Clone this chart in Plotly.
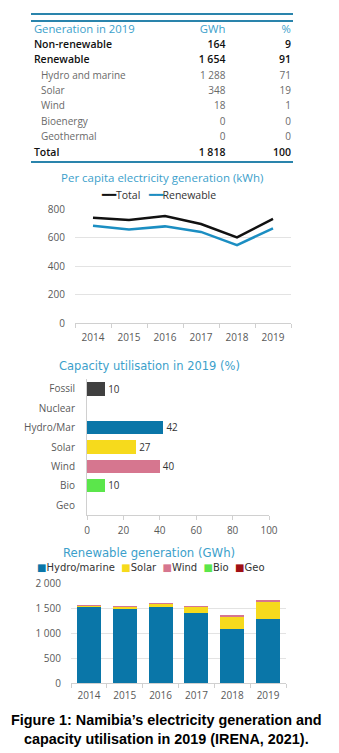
import plotly.graph_objects as go

W, H = 339, 753
OFF = 8  # default page margin around the plot in the html page

# ---------------- data ----------------
table_header = ["Generation in 2019", "GWh", "%"]
table_labels = ["Non-renewable", "Renewable", "Hydro and marine", "Solar", "Wind",
                "Bioenergy", "Geothermal", "Total"]
table_gwh = [164, 1654, 1288, 348, 18, 0, 0, 1818]
table_pct = [9, 91, 71, 19, 1, 0, 0, 100]
table_main = [True, True, False, False, False, False, False, True]

years = ["2014", "2015", "2016", "2017", "2018", "2019"]
percap_total = [739, 723, 751, 695, 601, 730]
percap_renew = [683, 657, 678, 639, 547, 664]

cap_cats = ["Fossil", "Nuclear", "Hydro/Mar", "Solar", "Wind", "Bio", "Geo"]
cap_vals = [10, None, 42, 27, 40, 10, None]

ren_hydro = [1520, 1480, 1530, 1410, 1090, 1288]
ren_solar = [35, 45, 60, 120, 240, 348]
ren_wind = [1, 1, 1, 1, 15, 18]
ren_bio = [0, 0, 0, 0, 0, 0]
ren_geo = [0, 0, 0, 0, 0, 0]

# ---------------- style ----------------
FONT = "Open Sans"
WIDE = "DejaVu Sans"
TICK = dict(family=FONT, size=10, color="#595959")
TITLE_C = "#3C9FCB"
C_TOTAL = "#111111"
C_RENEW = "#1B8EC2"
C_FOSSIL = "#404040"
C_HYDRO = "#0A76A8"
C_SOLAR = "#F6DA1C"
C_WIND = "#D6768F"
C_BIO = "#5BE64B"
C_GEO = "#A01014"
cap_colors = [C_FOSSIL, "#999999", C_HYDRO, C_SOLAR, C_WIND, C_BIO, "#999999"]
ren_series = [(ren_hydro, "Hydro/marine", C_HYDRO), (ren_solar, "Solar", C_SOLAR),
              (ren_wind, "Wind", C_WIND), (ren_bio, "Bio", C_BIO), (ren_geo, "Geo", C_GEO)]

FW, FH = W - OFF, H - OFF


def px_x(p):
    return (p - OFF) / FW


def px_y(p):
    return 1 - (p - OFF) / FH


def fmt(v):
    return f"{v:,}".replace(",", " ")


fig = go.Figure()

# ---------------- table (text on its own hidden axes) ----------------
rows = list(range(1, len(table_labels) + 1))
lab_x = [0.011 if m else 0.038 for m in table_main]
lab_col = ["#111111" if m else "#6A6A6A" for m in table_main]
wts = [600 if m else 400 for m in table_main]
szs = [10.5 if m else 10 for m in table_main]

common = dict(mode="text", xaxis="x", yaxis="y", showlegend=False, hoverinfo="skip",
              cliponaxis=False)
fig.add_trace(go.Scatter(x=[0.011], y=[0], text=[table_header[0]], textposition="middle right",
                         textfont=dict(family=FONT, size=11.3, color=TITLE_C), **common))
fig.add_trace(go.Scatter(x=[0.742, 0.992], y=[0, 0], text=table_header[1:],
                         textposition="middle left",
                         textfont=dict(family=FONT, size=11.3, color=TITLE_C), **common))
fig.add_trace(go.Scatter(x=lab_x, y=rows, text=table_labels, textposition="middle right",
                         textfont=dict(family=FONT, size=szs, color=lab_col, weight=wts),
                         **common))
fig.add_trace(go.Scatter(x=[0.742] * len(rows), y=rows, text=[fmt(v) for v in table_gwh],
                         textposition="middle left",
                         textfont=dict(family=FONT, size=szs, color=lab_col, weight=wts),
                         **common))
fig.add_trace(go.Scatter(x=[0.992] * len(rows), y=rows, text=[fmt(v) for v in table_pct],
                         textposition="middle left",
                         textfont=dict(family=FONT, size=szs, color=lab_col, weight=wts),
                         **common))

# ---------------- per capita line chart ----------------
fig.add_trace(go.Scatter(x=years, y=percap_total, name="Total", mode="lines",
                         line=dict(color=C_TOTAL, width=2.5), xaxis="x2", yaxis="y2",
                         showlegend=False))
fig.add_trace(go.Scatter(x=years, y=percap_renew, name="Renewable", mode="lines",
                         line=dict(color=C_RENEW, width=2.5), xaxis="x2", yaxis="y2",
                         showlegend=False))

# ---------------- capacity utilisation ----------------
fig.add_trace(go.Bar(y=cap_cats, x=cap_vals, orientation="h", marker=dict(color=cap_colors),
                     width=0.68, text=[("" if v is None else str(v)) for v in cap_vals],
                     textposition="outside", cliponaxis=False,
                     textfont=dict(family=FONT, size=10.5, color="#333333"),
                     xaxis="x3", yaxis="y3", showlegend=False, hoverinfo="skip"))

# ---------------- renewable generation ----------------
for vals, nm, col in ren_series:
    fig.add_trace(go.Bar(x=years, y=vals, name=nm, marker=dict(color=col, line=dict(width=0)),
                         width=0.67, xaxis="x4", yaxis="y4", showlegend=False))

grid_c = "#E3E3E3"
axis_c = "#D0D0D0"
base_ax = dict(automargin=False, zeroline=False, showgrid=False)

fig.update_layout(
    template="none",
    width=FW, height=FH, margin=dict(l=0, r=0, t=0, b=0, autoexpand=False),
    paper_bgcolor="white", plot_bgcolor="white",
    separators=". ",
    barmode="stack",
    showlegend=False,
    font=dict(family=FONT, size=10, color="#333333"),
    # table axes
    xaxis=dict(base_ax, domain=[px_x(31), px_x(293)], range=[0, 1], visible=False),
    yaxis=dict(base_ax, domain=[px_y(162), px_y(14)], range=[8.585, -1.041], visible=False),
    # line chart
    xaxis2=dict(base_ax, domain=[px_x(75), px_x(291)], anchor="y2", type="category",
                range=[-0.5, 5.5],
                showline=True, linecolor=axis_c, ticks="outside", tickson="boundaries",
                ticklen=4, tickcolor=axis_c, tickfont=TICK, ticklabelstandoff=5),
    yaxis2=dict(base_ax, domain=[px_y(323), px_y(209)], anchor="x2", range=[0, 800], dtick=200,
                showgrid=True, gridcolor=grid_c, tickfont=TICK, ticks="",
                ticklabelstandoff=9),
    # capacity utilisation
    xaxis3=dict(base_ax, domain=[px_x(87), px_x(269)], anchor="y3", range=[0, 100], dtick=20,
                showline=True, linecolor=axis_c, ticks="outside", ticklen=4, tickcolor=axis_c,
                tickfont=TICK, ticklabelstandoff=2),
    yaxis3=dict(base_ax, domain=[px_y(514.7), px_y(379.3)], anchor="x3", type="category",
                autorange="reversed", showline=True, linecolor=axis_c, ticks="",
                tickfont=TICK, ticklabelstandoff=9),
    # renewable generation
    xaxis4=dict(base_ax, domain=[px_x(71), px_x(286)], anchor="y4", type="category",
                range=[-0.5, 5.5],
                showline=True, linecolor=axis_c, ticks="outside", tickson="boundaries",
                ticklen=4, tickcolor=axis_c, tickfont=TICK, ticklabelstandoff=3),
    yaxis4=dict(base_ax, domain=[px_y(683), px_y(583)], anchor="x4", range=[0, 2000], dtick=500,
                tickformat=",d", showgrid=True, gridcolor=grid_c, ticks="",
                tickfont=TICK, ticklabelstandoff=9),
)

# table rules
rule_c = "#2A84AC"
fig.add_shape(type="line", xref="x domain", yref="y domain", x0=0, x1=1, y0=1, y1=1,
              line=dict(color=rule_c, width=2))
fig.add_shape(type="line", xref="x domain", yref="y domain", x0=0, x1=1,
              y0=(162 - 21) / (162 - 14), y1=(162 - 21) / (162 - 14),
              line=dict(color=rule_c, width=1.8))
fig.add_shape(type="line", xref="x domain", yref="y domain", x0=0, x1=1, y0=0, y1=0,
              line=dict(color=rule_c, width=1.8))

# titles
for txt, cx, cy, fam, sz in [("Per capita electricity generation (kWh)", 162, 177, FONT, 11.5),
                             ("Capacity utilisation in 2019 (%)", 149, 366, WIDE, 11.5),
                             ("Renewable generation (GWh)", 149, 553, WIDE, 11.7)]:
    fig.add_annotation(text=txt, x=px_x(cx), y=px_y(cy), xref="paper", yref="paper",
                       showarrow=False, xanchor="center", yanchor="middle",
                       font=dict(family=fam, size=sz, color=TITLE_C))

# legends (built from the trace names / colours)
NB = "\u00a0"
line_leg = (NB * 3).join(
    '<span style="color:%s;font-size:12px">━━</span>%s' % (t.line.color, t.name)
    for t in fig.data if t.xaxis == "x2")
fig.add_annotation(text=line_leg, x=px_x(99), y=px_y(195), xref="paper", yref="paper",
                   showarrow=False, xanchor="left", yanchor="middle",
                   font=dict(family=FONT, size=10.5, color="#333333"))

bar_leg = (NB * 2).join('<span style="color:%s">■</span>%s' % (c, n) for _, n, c in ren_series)
fig.add_annotation(text=bar_leg, x=px_x(35), y=px_y(567), xref="paper", yref="paper",
                   showarrow=False, xanchor="left", yanchor="middle",
                   font=dict(family=WIDE, size=10, color="#333333"))

# caption
fig.add_annotation(text="<b>Figure 1: Namibia’s electricity generation and<br>"
                        "capacity utilisation in 2019 (IRENA, 2021).</b>",
                   x=px_x(166), y=px_y(729.5), xref="paper", yref="paper", showarrow=False,
                   xanchor="center", yanchor="middle", align="center",
                   font=dict(family="Liberation Sans", size=14.4, color="#000000"))

fig.write_html("out.html")
